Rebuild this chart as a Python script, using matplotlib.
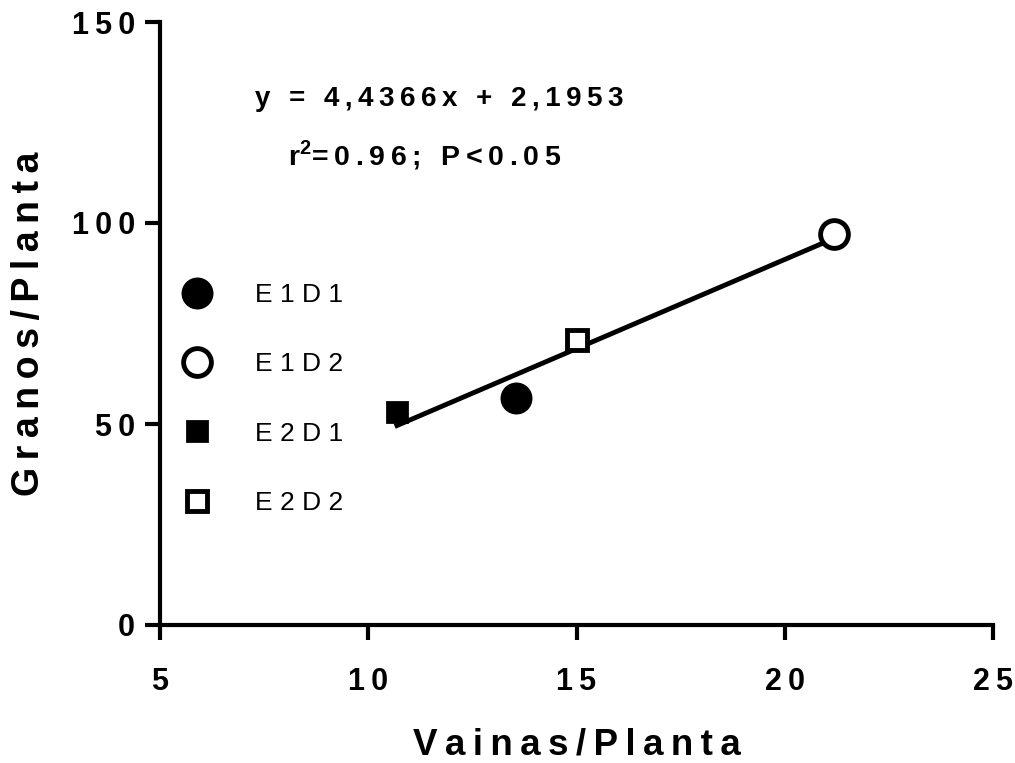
import matplotlib
matplotlib.use("Agg")
import matplotlib.pyplot as plt
import numpy as np

# Data
labels = ["E1D1", "E1D2", "E2D1", "E2D2"]
vainas = [13.55, 21.18, 10.69, 15.01]
granos = [56.5, 97.3, 53.0, 70.9]
slope, intercept = 4.4366, 2.1953
xticks = [5, 10, 15, 20, 25]
yticks = [0, 50, 100, 150]

plt.rcParams['font.family'] = ['Liberation Sans', 'DejaVu Sans']
plt.rcParams['mathtext.fontset'] = 'custom'
plt.rcParams['mathtext.rm'] = 'Liberation Sans:bold'
plt.rcParams['mathtext.bf'] = 'Liberation Sans:bold'

def sp(s, c='\u2009'):
    return c.join(list(s))

fig = plt.figure(figsize=(10.15, 7.63), dpi=100)
ax = fig.add_axes([160/1015, 138/763, 833/1015, 603/763])

styles = [
    dict(marker='o', ms=20, mfc='black', mec='black', mew=3),
    dict(marker='o', ms=20, mfc='white', mec='black', mew=3.5),
    dict(marker='s', ms=15, mfc='black', mec='black', mew=2),
    dict(marker='s', ms=15, mfc='white', mec='black', mew=3.5),
]

xl = np.array([min(vainas), max(vainas)])
ax.plot(xl, slope * xl + intercept, color='black', lw=3.5, zorder=2)

handles = []
for lab, x, y, st in zip(labels, vainas, granos, styles):
    h, = ax.plot([x], [y], linestyle='none', label=' '.join(lab), zorder=3, **st)
    handles.append(h)

ax.set_xlim(5, 25)
ax.set_ylim(0, 150)
ax.set_xticks(xticks)
ax.set_yticks(yticks)
ax.set_xticklabels([sp(str(t)) for t in xticks])
ax.set_yticklabels([sp(str(t)) for t in yticks])
for s in ['top', 'right']:
    ax.spines[s].set_visible(False)
for s in ['left', 'bottom']:
    ax.spines[s].set_linewidth(3)
ax.tick_params(width=3, length=11, labelsize=22, pad=7)
ax.tick_params(axis='x', pad=19)
for t in ax.get_xticklabels() + ax.get_yticklabels():
    t.set_fontweight('bold')

ax.set_xlabel(sp("Vainas/Planta"), fontsize=26.5, fontweight='bold', labelpad=22)
ax.set_ylabel(sp("Granos/Planta"), fontsize=27, fontweight='bold', labelpad=18)

leg = ax.legend(handles=handles, loc='upper left', bbox_to_anchor=(0.016, 0.585),
                frameon=False, fontsize=19, labelspacing=1.72, handlelength=1.0,
                handletextpad=1.7, numpoints=1, borderaxespad=0)

ax.text(0.335, 0.873, sp("y = 4,4366x + 2,1953", '\u2009'), transform=ax.transAxes,
        ha='center', va='center', fontsize=20, fontweight='bold')
ax.text(0.318, 0.78, "r$^{2}$" + sp("=0.96; P<0.05"), transform=ax.transAxes,
        ha='center', va='center', fontsize=20.5, fontweight='bold')

fig.savefig("out.png", dpi=100)
